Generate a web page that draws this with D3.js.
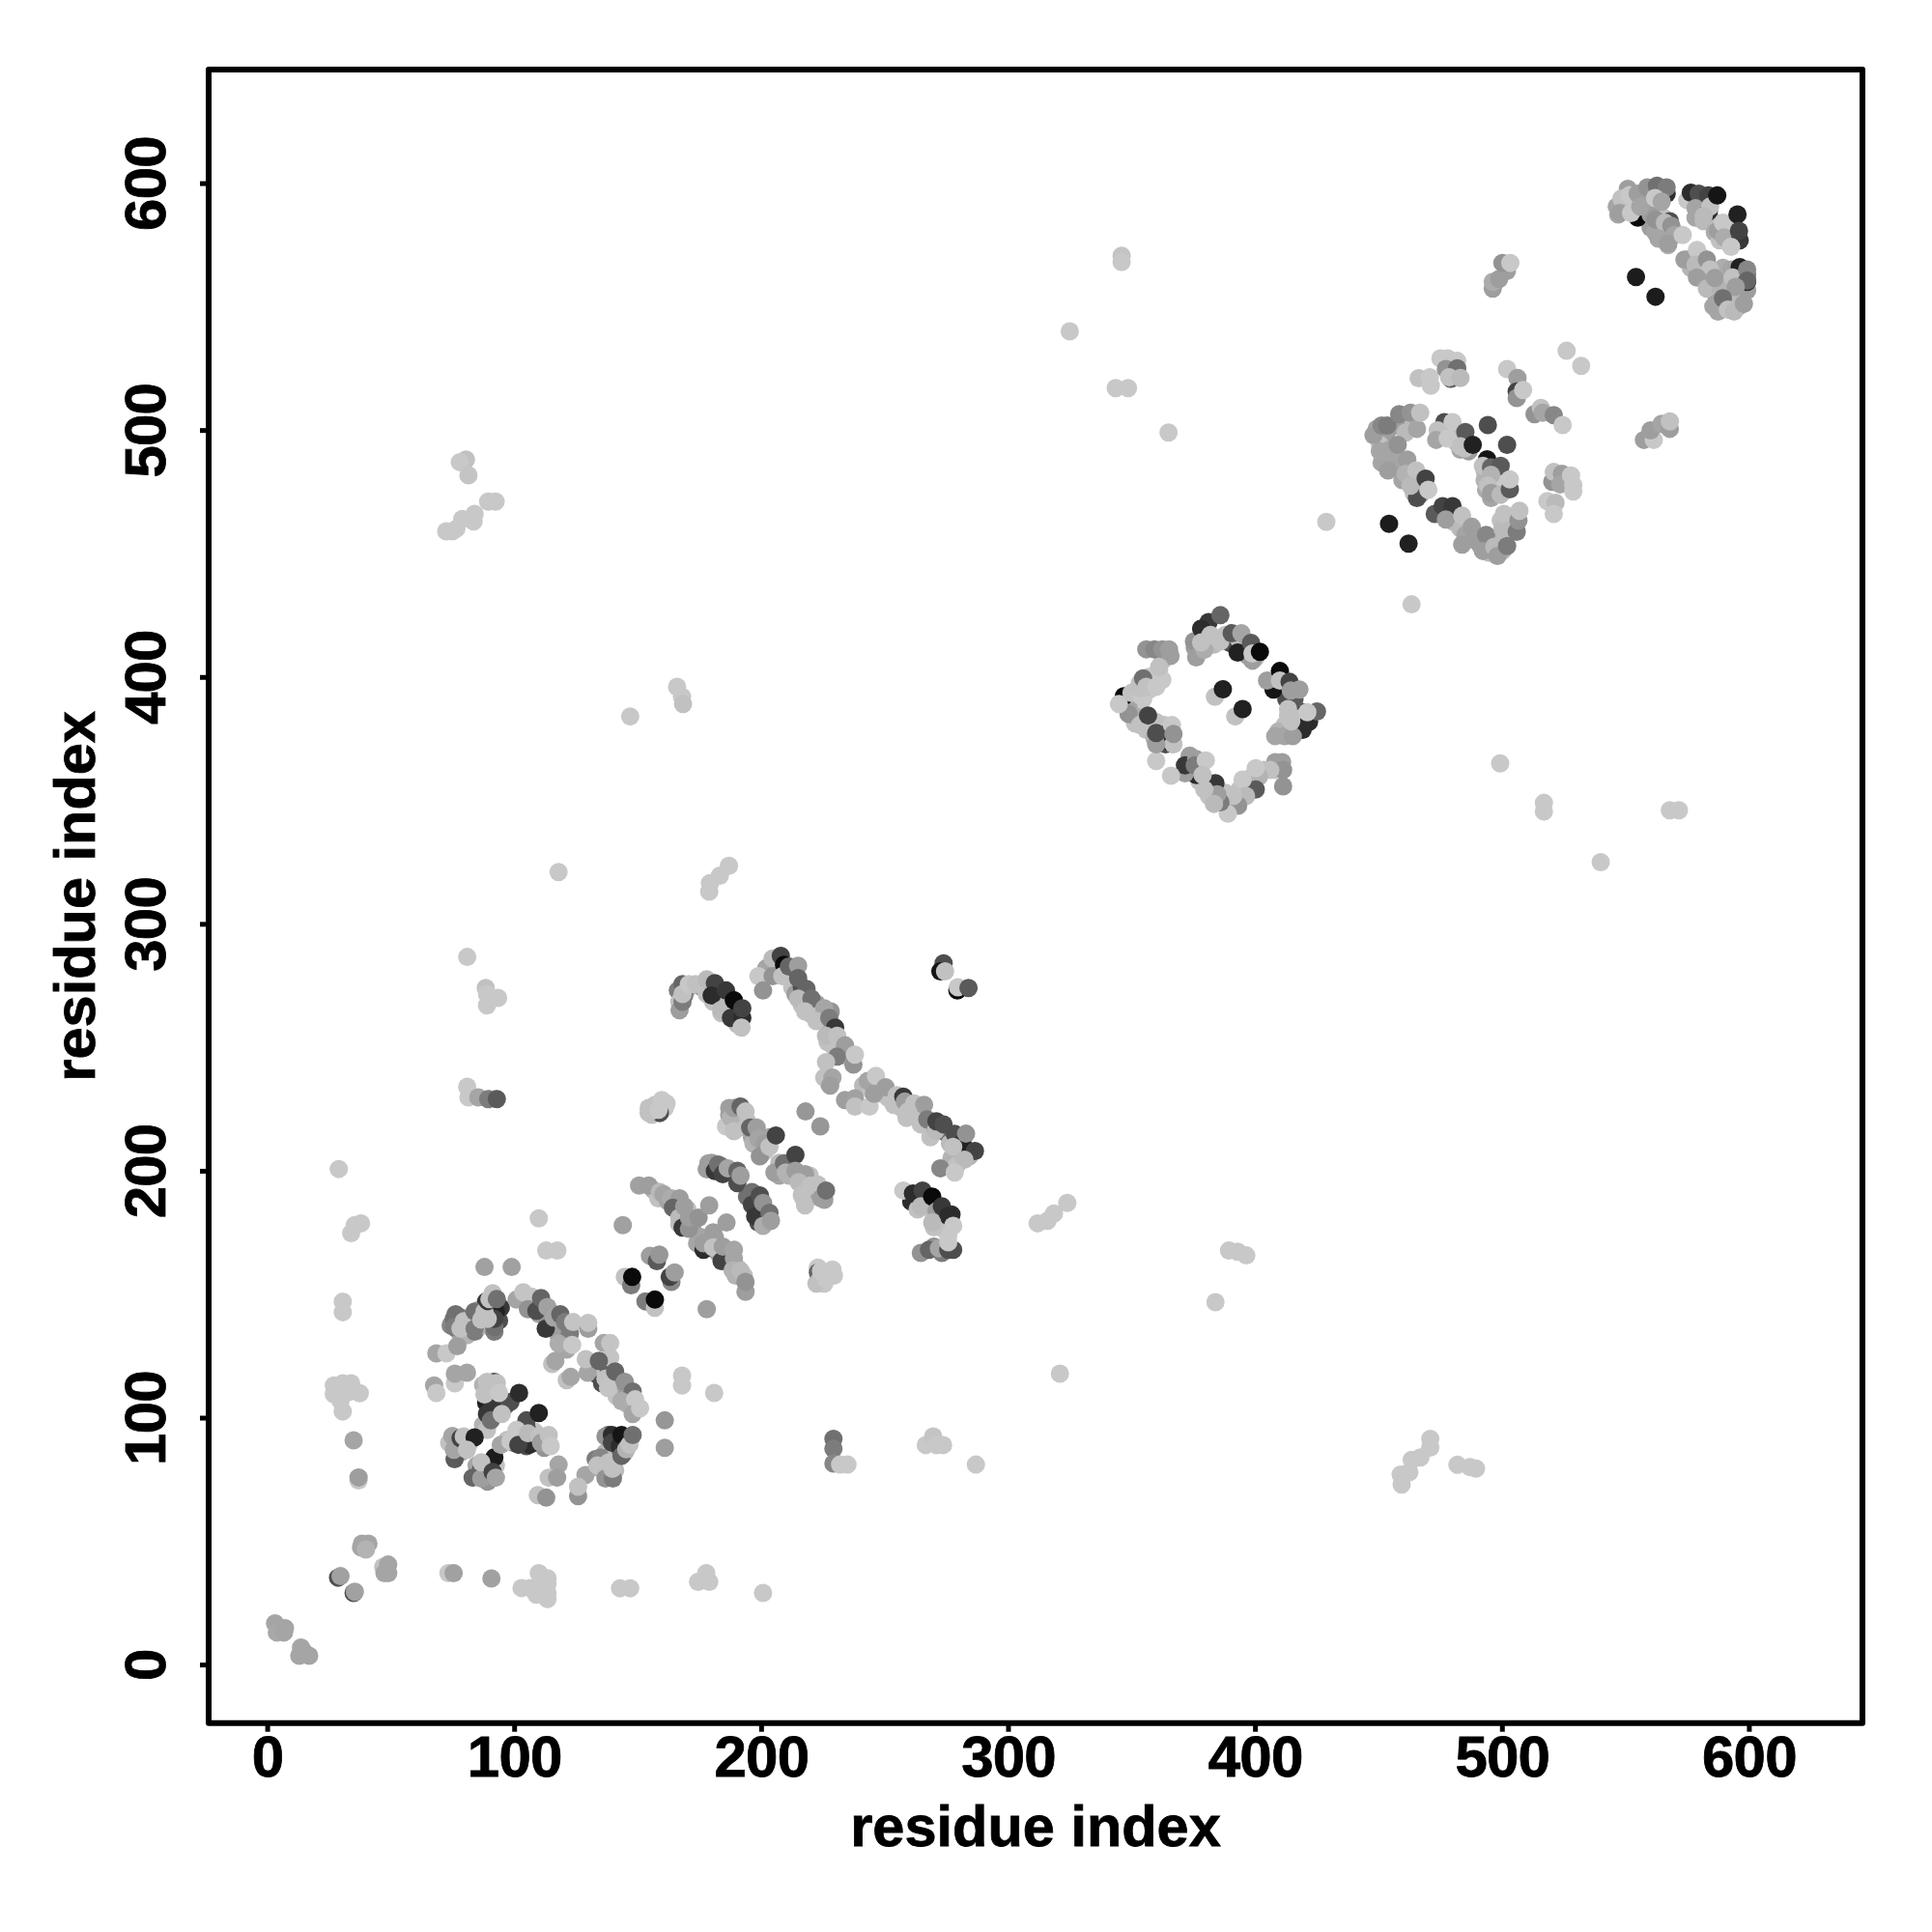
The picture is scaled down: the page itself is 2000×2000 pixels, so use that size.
<!DOCTYPE html>
<html lang="en">
<head>
  <meta charset="UTF-8">
  <script src="https://d3js.org/d3.v7.min.js"></script>
  <title>Residue contact map</title>
  <style>
    body { margin: 0; background: #fff; }
    text { font-family: "Liberation Sans", Arial, sans-serif; font-weight: bold; fill: #000; stroke: #000; stroke-width: 0.8px; }
  </style>
</head>
<body>
  <svg width="2000" height="2000"></svg>

  <script>
    // each contact is [residue x, residue y, score]; 0 = weak (light), 1 = strong (black)
    const tickValues = [0, 100, 200, 300, 400, 500, 600];
    const axisTitle = "residue index";

    // contacts that sit underneath the others inside the dense patches
    const ringBelow = [
      [74.3,137.4,.45],[77.6,134.8,.3],[80.9,133.4,.2],[84.1,134.8,.5],[88,137.4,.2],[92,134.8,.5],[93.9,139.3,.7],[86.1,143.9,.1],
      [89.3,141.3,.1],[82.2,140.6,.1],[78.3,140.6,.5],[76.3,141.9,.55],[94.6,144.5,.8],[88.7,147.1,.8],[91.3,150.4,.1],
      [104.3,147.1,.1],[107.6,145.2,.1],[110.2,141.9,.3],[114.8,142.6,.35],[117.4,137.4,.1],[113.5,138.7,.4],[120,134.1,.1],[118,133.4,.35],[122.6,134.1,.5],[121.3,127.6,.3],
      [131,120.4,.1],[133,117.8,.7],[135,120.4,.1],[137,117.8,.1],[138.2,119.8,.6],[139.6,115.2,.1],[142.2,111.9,.5],[141.5,108.7,.1],[145.4,109.3,.35],[146,105.4,.2],[143.5,114.5,.35],
      [87.4,113.2,.2],[90.6,113.2,.1],[92.6,109.3,.1],[89.3,108.7,.8],[90.6,106,.1],[94.6,104.8,.5],[89.3,98.9,.2],[87.4,97,.2],[91.3,102.8,.1],[96.5,104.8,.6],
      [73.7,89.8,.1],[77,88.5,.6],[79.6,88.5,.3],[81.5,89.1,.1],[78.3,85.9,.3],
      [84.8,80.6,.3],[88,78,.2],[90,79.3,.1],[89.3,74.1,.4],[92.6,80.6,.1],
      [97.2,91,.1],[99.8,89.8,.7],[103.7,93.7,.15],[105,88.5,.7],[108.9,90.4,.15],[108.3,94.3,.1],[111.5,92.4,.15],[112.2,87.8,.4],[112.8,90.4,.1],[105,96.3,.7],[103,92.4,.1],
      [138.2,93,.7],[139.6,87.1,.2],[137,85.9,.2],[141.5,87.1,.5],[144.8,85.9,.15],[145.4,90.4,.8],[138.2,79.3,.15],[135,79.3,.2],[140.9,78.7,.15],[136.3,83.9,.1],[133,83.2,.5]
    ];
    const bandsBelow = [
      [156.5,192.1,.2],[158.4,188.8,.1],[162.4,187.5,.3],[165.6,184.3,.3],[166.9,178.4,.1],[172.1,177.8,.35],[170.2,184.3,.1],
      [174.1,170.6,.3],[178.7,169.3,.1],[181.3,172.9,.35],[175.4,173.2,.3],[182.6,166.7,.3],[186.5,167.3,.35],[187.8,161.4,.25],[190.4,160.8,.1],[193,157.5,.1],[189.7,157.5,.2],[185.2,165.4,.6],
      [180,203.2,.35],[183.9,201.9,.4],[187.8,199.3,.4],[182.6,200,.35],
      [194.3,189.5,.55],[198.2,184.9,.8],[200.2,183.6,.3],[198.9,179,.7],[202.1,179,.3],[198.2,188.2,.35],
      [187.1,225.4,.35],[187.1,222.7,.35],[190.4,221.4,.1],[191,217.5,.15],[194.3,220.1,.1],[196.3,213.6,.3],[199.5,209.7,.25],[196.9,211,.2],[203.4,213.6,.3],[201.5,207.8,.1],
      [207.4,203.2,.15],[207.4,198,.3],[211.3,198,.2],[216.5,196.7,.15],[217.1,188.8,.1],[221,190.2,.15],[225.6,188.2,.35],[219.7,198,.1],[223,191.4,.3],
      [154.5,225.4,.1],[157.1,226.7,.1],[155.8,222.7,.1],[161.7,227.3,.05],[161,225.4,.05],
      [225.6,157.5,.05],[223,160.8,.05],[229.5,157.5,.05],[225.6,154.3,.05],[222.4,154.3,.1]
    ];
    const curveBelow = [
      [166.3,273,.5],[170.2,273.6,.2],[166.9,268.4,.1],[168.9,271,.5],[178,276.2,.1],[176,274.3,.4],[178,271.6,.1],[181.3,273,.7],[183.2,269.7,.1],[180.6,268.4,.1],
      [185.2,267.1,.15],[183.9,263.8,.1],[187.8,265.8,.7],[189,263.2,.85],[190.4,259.3,.15],
      [203.4,282.7,.1],[206,280.1,.1],[202.1,282,.3],[210,278.8,.2],[212.6,274.3,.1],[213.9,271.6,.35],[216.5,274.3,.7],[216.5,267.1,.1],[219.7,267.7,.1],[222.4,267.7,.35],
      [223,263.2,.2],[220.4,263.2,.1],[225.6,260.6,.5],[228.2,264.5,.4],[228.9,256.7,.1],[226.9,252.1,.1],[229.5,250.1,.1],[232.8,246.9,.7],[235.4,246.2,.1],[227.6,235.1,.3],[225.6,237.7,.1],
      [241.3,234.5,.15],[244.5,232.5,.1],[248.4,231.2,.1],[251.7,229.3,.1],[253.7,226.7,.1],[256.9,225.4,.1],[258.9,221.4,.1],[262,224,.1],[264.7,218.8,.1],[268.6,213.6,.1],
      [274.5,215.6,.6],[276.5,211,.15],[280.4,207.1,.1],[284.3,205.8,.2],[277.1,205.1,.2],[279.1,201.9,.1],[270.6,217.5,.6],
      [260.8,187.5,.85],[263.4,184.3,.1],[266.7,187.5,.5],[270,184.9,.3],[270,181.7,.1],[273.2,180.4,.5],[273.9,176.4,.1],[275.8,173.8,.05],[270,177.1,.1],
      [270,169.3,.4],[273.2,166.7,.5],[277.8,168,.7],[277.1,182.3,.85]
    ];
    const diamondBelow = [
      [375.6,411.8,.35],[380.1,413.8,.1],[383.4,413.1,.15],[388,417,.1],[389.9,413.8,.7],[393.2,415.7,.1],[394.5,411.8,.15],[397.1,408.6,.3],[400.3,407.9,.1],
      [406.9,397.5,.1],[411.4,394.9,.1],[412.7,391,.7],[416,387.7,.15],[419.3,385.7,.75],[417.3,383.1,.1],[415.3,378.6,.15],[412,380.5,.1],[409.5,377.9,.2],[413.4,384.4,.1],[419.9,382.5,.1],
      [408.2,362.3,.1],[403.6,362.3,.1],[399,359.6,.1],[397.1,357.7,.1],[393.8,354.4,.1],[392.5,350.5,.2],[388,353.1,.1],[386,352.5,.1],[381.4,351.8,.1],[377.5,357.7,.1],[379.5,358.3,.1],[382.1,357,.2],[374.3,362.3,.35],[373.6,368.1,.35],
      [352.1,389.6,.05],[354.7,391,.05],[351.4,394.2,.05],[357.3,394.9,.05],[361.2,402.7,.05],[362.5,406.6,.1],[357.3,400.1,.05],[353.4,397.5,.1],[348.8,387.7,.3],[351.4,381.2,.1],
      [356,378.6,.1],[359.9,381.8,.1],[363.2,380.5,.1],[362.5,376.6,.5],[363.8,372.7,.7],[359.3,375.3,.2]
    ];
    const upperBelow = [
      [449.3,500.5,.3],[451.3,495.3,.3],[453.2,497.9,.35],[450.6,494,.1],[454.5,492,.3],[451.3,486.8,.3],[453.2,486.2,.3],[457.8,488.8,.35],[456.5,484.9,.3],[459.7,479.7,.3],[463,480.7,.1],
      [464.3,474.5,.1],[466.9,473.8,.35],[459.7,503.8,.4],[463,501.8,.15],[457.1,501.8,.35],
      [474.7,466.6,.1],[477.3,466.6,.1],[480.6,462.7,.15],[483.2,460.1,.15],[485.2,457.5,.3],[491,453.6,.3],[494.3,453.6,.35],[494.9,450.3,.15],[500.2,451,.2],[502.1,457.5,.1],[499.5,463.4,.1],[504,462.7,.15],[498.9,456.9,.15],
      [476,499.9,.2],[479.3,497.9,.15],[481.3,495.3,.1],[483.2,492,.3],[486.5,491.4,.35],[484.5,496,.1],
      [493,483.6,.2],[496.9,481,.1],[498.9,478.4,.15],[493,479.7,.2],[493.6,475.8,.25],[500.8,475.8,.1],[495.6,472.5,.3],[500.2,481,.05]
    ];
    const cornerBelow = [
      [546.5,590.5,.3],[549,588.6,.35],[551.7,589.2,.1],[549.7,591.8,.7],[547.1,587.3,.3],[552.3,592.5,.1],[555.6,592.5,.4],[558.9,594.4,.35],[560.8,589.2,.1],[558.2,588.6,.4],[560.2,582,.35],[564,580.7,.35],[562.1,580.1,.3],
      [565.4,586,.1],[567.3,574.9,.2],[569.9,580.1,.35],[568,584.6,.7],
      [578.4,586,.3],[581.7,584.6,.15],[580.4,592.5,.2],[584.3,586,.15],
      [586.2,580.1,.25],[588.2,576.8,.1],[591.5,577.5,.3],[591.5,581.4,.25],[593.4,584,.1],
      [573.9,569,.35],[576.5,565.7,.2],[579,565.1,.3],[581.7,563.8,.1],[580.4,570.3,.1],[582.3,560.5,.2],[584.9,563.1,.1],
      [589.5,565.7,.25],[591.5,561.8,.15],[590.1,557.9,.15],[593.4,557.9,.3],[596.7,559.2,.3],[599.3,556.6,.35],[586.9,554,.3],[589.5,550.1,.15],[594,551.4,.1],[596,550.1,.3],[585.6,550.1,.3],[599.3,563.1,.5],[592.1,552.7,.15]
    ];

    const nearDiagonal = [
      [3.2,16.7,.3],[3.9,13,.28],[6.8,13,.3],[7.2,14.7,.3],[13,3.6,.3],[13.7,6.9,.3],[15,5,.3],[17,3.6,.3],
      [28.7,35.2,.7],[29.7,35.8,.33],[35,29,.7],[35.5,29.5,.33],
      [38.4,49,.3],[41,49,.3],[38,47.5,.3],[40,46.6,.2],[47,39.6,.1],[49,40.5,.3],[49,37,.3],[47.5,37,.3]
    ];
    const lowerStrip = [
      [73.4,37,.05],[75.5,37,.33],[90.8,34.9,.33],
      [103,31,.05],[106.5,31,.05],[110,37,.05],[113.5,32.6,.05],[113.5,29,.05],[109,28.3,.05],[113.5,26.5,.05],[110,31,.05],[113.5,35,.05],
      [142.9,30.9,.05],[147,30.9,.05],[177.8,37,.05],[174.5,33.5,.05],[179,33.5,.05],[200.8,29,.05]
    ];
    const leftColumn = [
      [30.6,147,.05],[30.6,142.7,.05],[27,113,.05],[30.6,113.9,.05],[34,113.9,.05],[27,109.5,.05],[29.7,106.9,.05],
      [33,110.4,.05],[37.5,109.9,.05],[30.6,102.5,.05],[35,90.8,.3],[37,74.6,.05],[37,75.8,.35],
      [29,200.7,.05],[34,174.7,.05],[35.5,178,.05],[38,178.7,.05]
    ];
    const ringArcs = [
      [88,161,.33],[99,161,.33],
      [68.5,126,.3],[72.6,126,.05],[77,129,.35],
      [75.6,140,.55],[75.6,136.7,.5],[79.6,139,.1],[78.3,136.1,.1],[84,143,.55],[84,136,.5],[86.7,139.7,.1],
      [92,136.7,.55],[92.6,143,.9],[92,140,.75],[89.3,140,.1],[88,143,.1],[89.3,147.2,.8],[90,148,.1],[93,148,.55],
      [101,147.8,.3],[103.7,150.8,.08],[107,149,.08],[105.6,143.9,.4],[109,143.2,.7],[110.9,148.4,.6],[112.8,136,.8],
      [113.5,144.8,.33],[116,140.6,.3],[118.7,141.9,.6],[120.6,138.7,.5],[118,130,.25],[123.9,138.7,.08],[123.5,129.5,.05],
      [130,136,.35],[130,138.4,.08],[115.4,121.7,.1],[116.7,123,.3],[121.3,115.2,.1],[122.9,116.5,.3],
      [136.3,130.2,.3],[138.9,130.2,.08],[138.9,124.3,.08],[129.8,118.2,.3],[129,123.7,.1],[134.3,123,.6],[135.6,113.9,.7],
      [137,115.8,.1],[138,112,.08],[140.9,118.7,.6],[144.8,114.5,.4],[148,110.6,.55],[143.5,106.7,.25],[149,107.4,.05],[148,101.5,.3],[151,103.8,.05],
      [67.6,113,.3],[68.5,110,.05],[76,113.9,.05],[76,117.8,.3],[80.9,118.2,.3],
      [92,114.5,.7],[88.7,106,.9],[91,105.4,.8],[89,114.5,.1],[88,109.4,.1],[93,114,.1],[98.5,106.4,.7],[102,110,.85],[93.9,110,.05],
      [89,95,.1],[89,101.5,.8],[90.6,98.9,.55],[95,101.5,.1],
      [75,92.6,.3],[75.9,83.2,.65],[75.6,87,.3],[78.3,91.7,.75],[79.6,92.4,.1],[84,92,.9],[80.9,87,.1],
      [92,83.9,.92],[86.7,80,.65],[83.2,75.7,.6],[86.7,75.4,.35],[86.7,81.9,.1],[91.3,78,.75],[92.6,75.7,.3],
      [94.6,89,.3],[98.5,90.4,.05],[105,98.9,.7],[101,95,.05],[110,101.9,.9],[106.3,89,.85],[101.7,89,.75],[105.6,93.7,.15],
      [110.2,92.4,.1],[110.9,89.8,.35],[114,93,.1],[114.8,88.5,.05],
      [118,81,.3],[114,75.7,.1],[117.4,75.7,.35],[109.6,68.6,.1],[113,67.6,.4],
      [128.9,76.7,.3],[125.9,68.2,.4],[125.9,72,.1],
      [137,92.4,.4],[135,83.9,.45],[133.7,80.6,.1],[139.6,93,.85],[139.6,89.8,.75],[142.8,88.5,.85],[143.5,93,.95],[137,75.4,.4],[140,75.4,.5],
      [138.3,81.9,.1],[139.8,79.3,.1],[143.5,84.5,.6],[145.4,87.2,.2],[146.7,89.1,.1],[148,93,.55],
      [161,98.9,.38],[161,87.8,.35]
    ];
    const midBands = [
      [144,178,.33],[155,165.5,.35],[157.8,163.4,.65],[158.8,166,.38],[163.7,155,.45],[163,157,.75],[165,158.8,.35],
      [144.8,157,.1],[147.4,153.6,.5],[147.8,157,1],[153.2,147.1,.5],[157,144.5,.1],[157,147.8,1],[178,143.9,.35],
      [150.6,194,.33],[154.5,194,.35],[159,191.4,.15],[160.5,190.5,.3],[163.7,188.8,.25],[167,188.8,.35],[164.3,185,.6],[166.9,181,.15],
      [168.9,185.6,.35],[168.2,177,.8],[170.8,176.5,.4],[170.8,181,.35],[174.7,181,.4],[179,186,.35],[186,179,.35],
      [180.6,175,.35],[176.7,168,.85],[176.7,170.6,.35],[180.6,169,.1],[184,163.4,.75],[184.5,169.3,.35],[189,168,.3],
      [189,164.5,.3],[188.5,159.7,.2],[191.7,159.5,.15],[193.7,151,.35],[193.7,155,.4],
      [178.7,203,.35],[178,200.6,.35],[181.3,199.9,.8],[182.6,202.5,.55],[184.5,198.6,.75],[186.5,201,.3],[190.4,195,.7],[190.4,200,.6],[191.7,198,.35],
      [196.3,191.4,.55],[196.3,186.2,.75],[199.5,190,.7],[197.6,181.6,.8],[200.8,187,.4],[203.4,183,.55],[200.8,177.7,.25],[204,179.7,.35],
      [185.8,218,.05],[187.8,221.4,.2],[189,225.4,.35],[191.7,226,.6],[189,216,.1],[193.7,224,.1],[195.6,217.5,.6],[198.2,217.5,.35],
      [198.9,213,.3],[201.5,211,.35],[199.5,205.8,.4],[203.4,209.7,.1],[206,214.3,.75],
      [205.4,199.3,.35],[209.3,203,.55],[213.9,206.4,.75],[210,199.3,.2],[213.9,200,.35],[217.8,198.6,.35],[215.2,195.4,.15],
      [216.5,190.2,.1],[217.8,186,.1],[220,194,.1],[223,194.4,.1],[224.3,188.8,.35],[226.3,192,.55],
      [218,224,.38],[224,218,.38],
      [159,223.4,.7],[155.8,225.4,.1],[154.5,223.4,.1],[158.5,224.7,.05],[159.8,228.6,.05],
      [223,158.8,.6],[223.6,155.6,.1],[224.3,159.5,.05],[226.3,156.2,.05],[228.9,160,.05]
    ];
    const bracketCurve = [
      [167,265,.35],[168.2,268.4,.5],[168.2,275.6,.6],[168.2,271.6,.1],[170.8,275.6,.05],[173.4,275.6,.1],[178,277.5,.15],
      [181.3,276,.75],[180,271,.85],[183.9,265.2,.15],[185.8,273,.8],[187.8,261.9,.8],[189,269,1],[192.4,261.9,.85],[192.4,265.8,.75],[192.1,258,.1],
      [198.9,278.8,.05],[200.8,273,.4],[204.7,286,.15],[204.7,278.8,.4],[208,287,.75],[209.3,283.4,1],[208.6,278.8,.1],[211.3,282.7,.6],
      [215,283,.35],[215,278,.6],[218.4,273.6,.6],[215,269.7,.15],[220.4,269.7,.55],[217.8,264.5,.1],[225.6,265.8,.3],[222.4,260.6,.1],
      [227.6,261.9,.5],[230,258,.8],[226.3,254.7,.15],[230.8,254.7,.1],[234,250.8,.35],[230.8,246.2,.5],[237.4,243,.4],[238,247,.05],
      [226.3,244,.1],[227,238.4,.1],[228.9,237.7,.3],[228,234.5,.35],[234,228.6,.35],[238,229.3,.33],[238,226,.1],[243.9,226,.05],
      [243.2,236.4,.3],[246.5,238.4,.05],[245.8,231.2,.35],[250.4,233.8,.35],[255,230.6,.1],[257.6,230,.8],[258.2,228,.35],[262,227.3,.1],[266,226.7,.35],
      [259.5,224,.1],[267.3,220.8,.5],[270.7,216.2,.15],[271,220,.75],[273.9,218.8,.7],[278.4,214.9,.7],[281.6,211,.9],[277.8,209.7,.1],[283,215,.4],[286.6,208,.75],
      [282.3,204.5,.15],[272.6,201,.45],[278.4,199.3,.05],
      [257.6,192,.05],[261.5,190.8,.85],[265.4,192,.75],[264.7,185.6,.15],[269.3,189.5,1],[271,183.6,.35],[273.2,185.6,.8],[275.8,181.7,.85],[269.3,179,.15],[277.8,177.7,.05],
      [264.7,166.7,.4],[268,168,.6],[272,168.6,.3],[275.8,168,.7],[275.8,171,.05],
      [273.9,284,.7],[272.6,280.8,.95],[274.5,280.8,.1],[279.5,273,1],[279.7,274.3,.05],[284,274,.65]
    ];
    const scatteredLower = [
      [168,117,.05],[168,113,.05],[181,110,.05],[312,178.7,.05],[316,179.7,.05],[318.6,182.7,.05],[324,187,.05],
      [81,286.6,.05],[88.5,274,.1],[89,271.6,.05],[93.5,270,.05],[89,267,.05],
      [81,234,.05],[81.5,229.7,.05],[85.5,229.7,.3],[89.5,229,.5],[93,229,.65],
      [118,321,.05],[187,323.5,.05],[183.3,319.5,.05],[179.3,316.5,.05],[179,313,.05],
      [147,384,.05],[166,396,.05],[168,392,.05],[168.4,389,.1],
      [80.5,488,.1],[78,487,.05],[81.5,481.7,.08],
      [72.5,459,.05],[76.6,460,.05],[79,464,.05],[84,466,.05],[83.6,463,.05],[89.5,471,.05],[92.5,471,.05],[75,459,.05],
      [110,180.7,.05],[113,167.7,.05],[117.5,167.7,.05],
      [229.3,91.4,.55],[229.3,87.4,.5],[229.3,81.4,.45],[232,81,.05],[235,81,.05],
      [266.7,88.9,.05],[269.7,92.4,.08],[271,88.9,.05],[273.7,88.9,.05],[287,81,.05],
      [459.4,72.9,.05],[459,76.9,.05],[462.5,77.9,.05],[463.5,82.9,.05],[467,83.9,.05],[471,91.4,.05],[471,87.9,.05],[482,80.9,.05],[489.5,79.4,.05],[487,80,.05],
      [384,146.8,.05],[321,117.8,.05],[389.5,167.7,.05],[393,167.2,.05],[396.5,165.7,.05],
      [499.3,365,.05],[517,349,.05],[517,345.5,.05],[540,325,.05],[568,346,.05],[571.7,346,.05],
      [463.4,429.4,.05],[428.9,462.8,.05],[325,540,.05],[346,570.6,.08],[346,568,.05],[343.6,517,.05],[348.6,517,.05],[365,499,.05]
    ];
    const diamond = [
      [393,409.9,.9],[375.3,414.4,.4],[376.2,407.9,.35],[381.2,422.2,.8],[378.2,419.6,.85],[379.5,411,.25],[378.2,414,.1],[386,425,.6],[382,417,.1],[386,414.4,.1],
      [390.6,417.7,.65],[394.5,417.7,.3],[398.4,413.8,.65],[399,406.6,.35],[399,409.5,.05],[402,410.2,1],
      [407.5,394.9,.95],[404.9,398.5,.35],[410.1,402.4,1],[410.1,398.5,.1],[414,398,.75],[416,391,.65],[414.5,394.5,.35],[418,394.9,.35],
      [419.3,378.6,.85],[421.9,381.8,.85],[413.4,387,.1],[425.1,386,.6],[421.2,385.7,.05],[408.2,376,.3],[412,376,.3],[415.3,376,.35],[414.7,382,.1],
      [408.2,365.5,.35],[411,365.5,.35],[411.4,362.3,.4],[411.4,355.7,.4],[406.2,362.3,.1],[401.6,359.6,.2],[400.3,363,.05],[400.3,354.4,.65],
      [395,358.4,.05],[396.4,351.8,.15],[388.6,349.2,.9],[393.2,347.9,.4],[391.2,351.8,.1],[389,344.6,.05],
      [386,349.2,.5],[384,357,.8],[384.7,352.5,.35],[383.4,348.6,.15],[379.5,354.4,.1],
      [376.2,360.3,.85],[371.7,364.2,.35],[371.7,361,.35],[371.7,364.2,.8],[376.2,366.7,.35],[375.6,364.2,.5],[380.1,366.2,.05],[378.8,360.3,.1],
      [366,360,.05],[360,366,.05],[366.4,373,.9],[367,372.7,.1],[360,372.7,.35],[360,377.3,.7],[366.4,380.5,.05],[367,376.9,.4],
      [352,383.8,.25],[348.8,385,.4],[353.4,380.5,.1],[356.7,384.4,.75],
      [346.9,392.2,1],[344.9,389,.05],[350,393.5,.1],[354,392.2,.05],[353.4,395.5,.1],[354.7,399.4,.55],[356,396,.1],[360,396,.05],[362.5,398.8,.05],
      [356,411.2,.4],[359.3,411.2,.45],[362.5,411.2,.4],[365.2,411.2,.35],[365.8,408.5,.35],[361.2,404,.1],
      [383.8,392,.1],[387,395,.9],[392,384,.1],[395,387,.9]
    ];
    const ringUpper = [
      [448,497.9,.35],[451.3,501.8,.45],[453.6,501.8,.5],[458.4,506.4,.45],[463,507,.4],[461,499,.15],[465.6,500.5,.3],[466.9,507,.1],
      [450.6,491.4,.3],[455,489.8,.3],[457.8,494,.4],[453.9,483.6,.35],[461.7,488,.35],[461,482.3,.2],[465.3,483.6,.1],
      [465.6,472.5,.7],[463,477.5,.15],[469.1,480.3,.75],[470.2,475.8,.05],
      [472.8,466,.65],[476,469.2,.75],[480,469.2,.8],[477.3,463.8,.35],[483.9,465.3,.1],[487.8,460.8,.35],[483.9,453.6,.35],[488.4,455.6,.35],
      [493.6,457.5,.45],[492.3,451,.35],[496.9,452.7,.15],[498.2,449,.35],[502.1,453,.5],[500.2,460.2,.15],[500.8,466,.1],[506,458.8,.5],[506.7,463.4,.4],[507.1,467.3,.1],
      [476.7,503.2,.7],[480,503.2,.05],[474,499.9,.1],[473.4,496,.3],[478,496.6,.05],[485.2,499.2,.65],[483.2,493.4,.1],[485,492.5,.1],
      [494.3,502,.7],[488.2,494,.9],[502.1,494,.7],[494,488.1,.95],[492.3,485.5,.1],[495.6,484.9,.6],[499.5,485.5,.65],[495.6,481.9,.2],
      [494.3,477.5,.1],[495.6,474.5,.35],[499.5,473.8,.15],[503.2,476,.65],[503.2,480,.05],
      [502.1,524.7,.05],[506.3,521.1,.35],[506,515.6,.75],[506,513,.4],[508.6,516.2,.05],
      [513.2,506.4,.4],[515.8,509,.1],[516.5,507,.3],[521,506,.45],[524.6,502,.05],
      [526.2,532.1,.05],[532.1,526,.05],
      [520.4,479,.4],[521,483,.1],[524.3,482.3,.35],[523.6,478,.3],[528,481.6,.05],[528.9,477.7,.05],[528.9,475.1,.05],[518.4,471.2,.05],[521.7,470.5,.15],[521,466,.05],
      [475.1,529,.05],[478,529,.05],[481.9,528,.05],[466.3,521,.1],[470.8,521.4,.05],[471.2,518,.05],[477.3,524.7,.4],[481.9,525,.55],[479.3,520.7,.6],[478.6,521.4,.1],[483.2,521.1,.15],
      [454.3,462,.92],[462.2,454,.9],
      [496.3,557.3,.35],[496.3,560,.25],[498.9,561.2,.35],[502,564.4,.35],[500.2,567.7,.4],[503.4,567.7,.05],
      [557.5,496,.35],[561.5,496,.05],[560.2,499.9,.35],[564.7,502.5,.3],[568,500.5,.35],[568,503.5,.1]
    ];
    const cornerCluster = [
      [554.3,562,.92],[562.2,554,.92],
      [551,597.7,.35],[548.4,593.8,.1],[547.8,587.9,.35],[551.7,595.1,.05],[555,586,1],[555,595.7,.35],[558.9,598.3,.4],
      [552.3,587.9,.05],[560.2,587.3,.35],[556,590.5,.3],
      [566.7,595.7,.85],[562.8,599,.55],[566.7,598.3,.5],[562,594,.05],[564.7,592.5,.3],[562.1,585.3,.4],[566,584,.15],[568.6,582.7,.4],
      [563.4,577.5,.3],[569.8,579,.3],[567.3,575.5,.35],[573.2,579,.05],
      [575.1,593.1,.05],[576.5,596.1,.85],[579.7,595.7,.7],[578.4,589.9,.3],[583.6,595,.75],[583.8,588.6,.85],[584.3,590.5,.1],[581.7,586.6,.15],[587.2,595,.95],
      [587.5,580.7,.35],[589.5,584,.05],[590,578,.25],[595.4,587.3,.9],[596.3,576.8,.8],[596,580.7,.75],[592.8,574.2,.05],
      [575.1,569,.35],[579,572.9,.05],[578.4,567,.15],[583,569,.4],[584.3,565,.1],[579,561.8,.35],
      [585.6,557.9,1],[583,557.3,.15],[588.8,556.6,.2],[586.2,561.6,.35],
      [592.8,565,.3],[596.3,566,.9],[593.4,561.8,.1],[599.3,560,.85],[599.3,565,.45],[599.3,560.5,.6],[594.7,558,.35],
      [586.9,551.4,.3],[587.5,548,.3],[589.5,553.4,.55],[591.5,548.8,.1],[594,548,.15],[598,551.1,.35]
    ];

    const contacts = [ringBelow, bandsBelow, curveBelow, diamondBelow, upperBelow, cornerBelow,
      nearDiagonal, lowerStrip, leftColumn, ringArcs, midBands, bracketCurve,
      scatteredLower, diamond, ringUpper, cornerCluster].flat();

    const frame = { left: 216, right: 1928, top: 72, bottom: 1783.7 };

    const x = d3.scaleLinear().domain([-23.7, 646]).range([frame.left, frame.right]);
    const y = d3.scaleLinear().domain([-23.7, 646]).range([frame.bottom, frame.top]);
    const grey = d3.scaleLinear().domain([0, 0.35, 1]).range(["#cfcfcf", "#9e9e9e", "#0a0a0a"]);

    const svg = d3.select("svg");

    svg.append("g")
      .selectAll("circle")
      .data(contacts)
      .enter()
      .append("circle")
      .attr("cx", d => x(d[0]))
      .attr("cy", d => y(d[1]))
      .attr("r", 9.5)
      .attr("fill", d => grey(d[2]));

    const xAxis = svg.append("g")
      .attr("transform", `translate(0,${frame.bottom})`)
      .call(d3.axisBottom(x).tickValues(tickValues).tickFormat(d3.format("d")).tickSize(9).tickSizeOuter(0));
    xAxis.select(".domain").remove();
    xAxis.selectAll("line").attr("stroke", "#000").attr("stroke-width", 5);
    xAxis.selectAll("text")
      .attr("y", 55.3)
      .attr("dy", 0)
      .style("font-size", "60px")
      .style("letter-spacing", "-0.8px");

    const yAxis = svg.append("g")
      .attr("transform", `translate(${frame.left},0)`)
      .call(d3.axisLeft(y).tickValues(tickValues).tickFormat(d3.format("d")).tickSize(9).tickSizeOuter(0));
    yAxis.select(".domain").remove();
    yAxis.selectAll("line").attr("stroke", "#000").attr("stroke-width", 5);
    yAxis.selectAll("text")
      .attr("transform", "rotate(-90)")
      .attr("x", 0)
      .attr("y", -45.3)
      .attr("dy", 0)
      .style("text-anchor", "middle")
      .style("font-size", "60px")
      .style("letter-spacing", "-0.8px");

    svg.append("rect")
      .attr("x", frame.left)
      .attr("y", frame.top)
      .attr("width", frame.right - frame.left)
      .attr("height", frame.bottom - frame.top)
      .attr("fill", "none")
      .attr("stroke", "#000")
      .attr("stroke-width", 6)
      .attr("stroke-linejoin", "round");

    svg.append("text")
      .attr("x", (frame.left + frame.right) / 2)
      .attr("y", 1911)
      .attr("text-anchor", "middle")
      .style("font-size", "59.5px")
      .text(axisTitle);

    svg.append("text")
      .attr("transform", `translate(98,${(frame.top + frame.bottom) / 2}) rotate(-90)`)
      .attr("text-anchor", "middle")
      .style("font-size", "59.5px")
      .text(axisTitle);
  </script>
</body>
</html>
